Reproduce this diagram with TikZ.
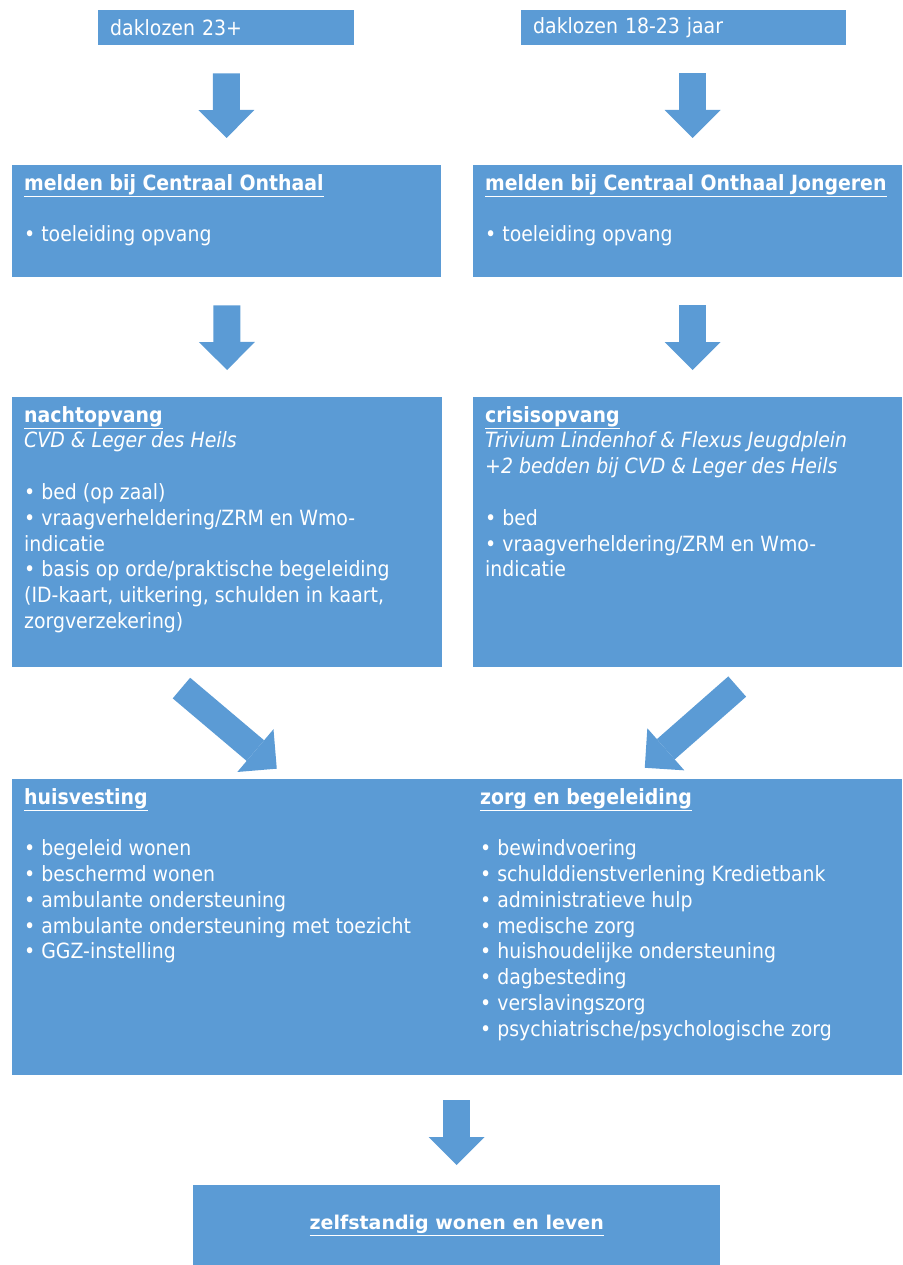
\documentclass[tikz,border=0pt]{standalone}
\usepackage{fontspec}
\setmainfont{DejaVu Sans Condensed}
\newfontfamily\goalfont{DejaVu Sans}
\usetikzlibrary{arrows.meta,calc}
\definecolor{boxblue}{RGB}{91,155,213}
\newcommand{\kop}[1]{\underline{\textbf{#1}}}
\newcommand{\paneltext}[3]{\parbox[c][#2][t]{#1}{\raggedright #3}}

\begin{document}
\begin{tikzpicture}[
    x=1pt, y=-1pt,
    font=\fontsize{21}{25.8}\selectfont,
    entrybox/.style={fill=boxblue, text=white, anchor=north west, inner xsep=12pt, inner ysep=0pt, minimum height=35pt, text width=#1, align=left},
    column/.style={text=white, anchor=north west, inner xsep=12pt, inner ysep=9pt},
    panel/.style={column, fill=boxblue},
    goalbox/.style={fill=boxblue, text=white, anchor=north west, minimum width=527pt, minimum height=80pt, font=\goalfont\bfseries\fontsize{19}{23}\selectfont},
    flow/.style={draw=boxblue, line width=27pt, -{Triangle[length=28pt, width=56pt, line width=0pt]}}
]
\useasboundingbox (0,0) rectangle (902,1265);

\node[entrybox=232pt] (d23) at (98,10) {daklozen 23+};
\node[entrybox=301pt] (d18) at (521,10) {daklozen 18-23 jaar};

\node[panel] (co) at (12,165) {\paneltext{405pt}{94pt}{%
    \kop{melden bij Centraal Onthaal}\\[\baselineskip]
    • toeleiding opvang}};
\node[panel] (coj) at (473,165) {\paneltext{405pt}{94pt}{%
    \kop{melden bij Centraal Onthaal Jongeren}\\[\baselineskip]
    • toeleiding opvang}};

\node[panel] (nacht) at (12,397) {\paneltext{406pt}{252pt}{%
    \kop{nachtopvang}\\
    \textit{CVD \& Leger des Heils}\\[\baselineskip]
    • bed (op zaal)\\
    • vraagverheldering/ZRM en Wmo-\\
    indicatie\\
    • basis op orde/praktische begeleiding\\
    (ID-kaart, uitkering, schulden in kaart,\\
    zorgverzekering)}};
\node[panel] (crisis) at (473,397) {\paneltext{405pt}{252pt}{%
    \kop{crisisopvang}\\
    \textit{Trivium Lindenhof \& Flexus Jeugdplein}\\
    \textit{+2 bedden bij CVD \& Leger des Heils}\\[\baselineskip]
    • bed\\
    • vraagverheldering/ZRM en Wmo-\\
    indicatie}};

\node[panel] (huis) at (12,779) {\paneltext{866pt}{278pt}{%
    \kop{huisvesting}\\[\baselineskip]
    • begeleid wonen\\
    • beschermd wonen\\
    • ambulante ondersteuning\\
    • ambulante ondersteuning met toezicht\\
    • GGZ-instelling}};
\node[column] (zorg) at ($(huis.north west)+(456,0)$) {\paneltext{400pt}{278pt}{%
    \kop{zorg en begeleiding}\\[\baselineskip]
    • bewindvoering\\
    • schulddienstverlening Kredietbank\\
    • administratieve hulp\\
    • medische zorg\\
    • huishoudelijke ondersteuning\\
    • dagbesteding\\
    • verslavingszorg\\
    • psychiatrische/psychologische zorg}};

\node[goalbox] (zelf) at (193,1185) {\underline{zelfstandig wonen en leven}};

\draw[flow, shorten <=28pt, shorten >=27pt] (d23.south) -- (co.north);
\draw[flow, shorten <=28pt, shorten >=27pt] ([xshift=5pt]coj.north |- d18.south) -- ([xshift=5pt]coj.north);
\draw[flow, shorten <=28pt, shorten >=27pt] (co.south) -- (nacht.north);
\draw[flow, shorten <=28pt, shorten >=27pt] ([xshift=5pt]coj.south) -- ([xshift=5pt]crisis.north);
\draw[flow, shorten <=32pt, shorten >=16pt] ($(nacht.south west)+(145,0)$) -- ($(huis.north west)+(277,0)$);
\draw[flow, shorten <=29pt, shorten >=17pt] ($(crisis.south west)+(286,0)$) -- ($(huis.north west)+(620,0)$);
\draw[flow, shorten <=25pt, shorten >=20pt] (zelf.north |- huis.south) -- (zelf.north);
\end{tikzpicture}
\end{document}
